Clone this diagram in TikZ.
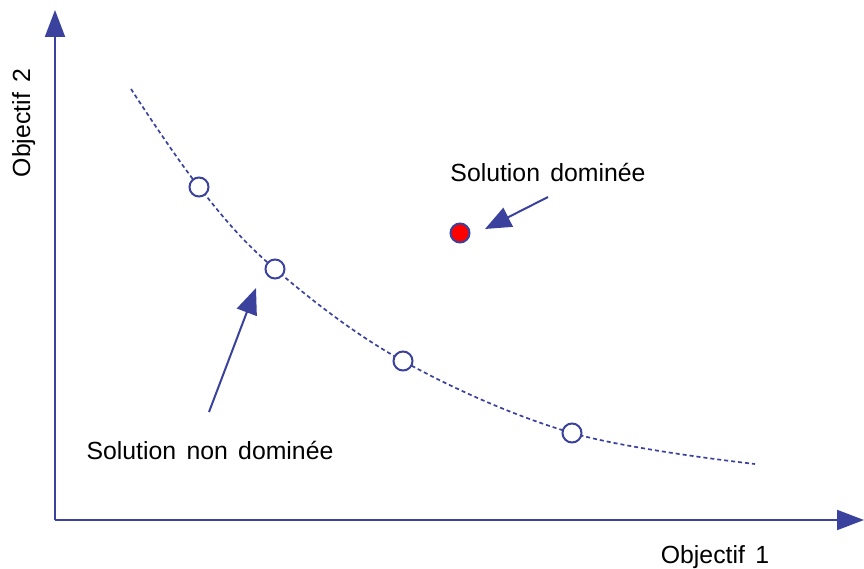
\documentclass[tikz,border=0pt]{standalone}
\usepackage{fontspec}
\setmainfont[WordSpace=1.5]{Liberation Sans}
\usetikzlibrary{arrows.meta}
\definecolor{axblue}{RGB}{58,66,158}
\definecolor{dotred}{RGB}{255,0,0}
\begin{document}
\begin{tikzpicture}[x=1pt,y=-1pt,
  axis/.style={draw=axblue,line width=2pt,-{Triangle[length=27pt,width=20pt]}},
  pointer/.style={draw=axblue,line width=2pt,-{Triangle[length=26pt,width=21pt]}},
  front/.style={draw=axblue,line width=1.7pt,dash pattern=on 4pt off 3pt},
  sol/.style={circle,draw=axblue,line width=2pt,fill=white,minimum size=19pt,inner sep=0pt},
  dom/.style={circle,draw=axblue,line width=2pt,fill=dotred,minimum size=19pt,inner sep=0pt},
  lbl/.style={font=\fontsize{24.8}{29}\selectfont,inner sep=0pt,anchor=base}]
\useasboundingbox (0,0) rectangle (864,569);
\coordinate (o) at (55,520);
\coordinate (ytip) at (55,10);
\coordinate (xtip) at (864,520);
\draw[axis] (o) -- (ytip);
\draw[axis] (o) -- (xtip);
\draw[front] plot[smooth,tension=0.6] coordinates {(131,89) (199,187) (275,269) (403,361) (572,433) (755,464)};
\node[sol] (p1) at (199,187) {};
\node[sol] (p2) at (275,269) {};
\node[sol] (p3) at (403,361) {};
\node[sol] (p4) at (572,433) {};
\node[dom] (d) at (460,233) {};
\coordinate (a1s) at (548,197);
\coordinate (a1e) at (485,229);
\coordinate (a2s) at (209,412);
\coordinate (a2e) at (256,288);
\draw[pointer] (a1s) -- (a1e);
\draw[pointer] (a2s) -- (a2e);
\node[lbl] (t1) at (548,182) {Solution dominée};
\node[lbl] (t2) at (210,459) {Solution non dominée};
\node[lbl] (t3) at (715,563) {Objectif 1};
\node[lbl,rotate=90] (t4) at (30,123) {Objectif 2};
\end{tikzpicture}
\end{document}
